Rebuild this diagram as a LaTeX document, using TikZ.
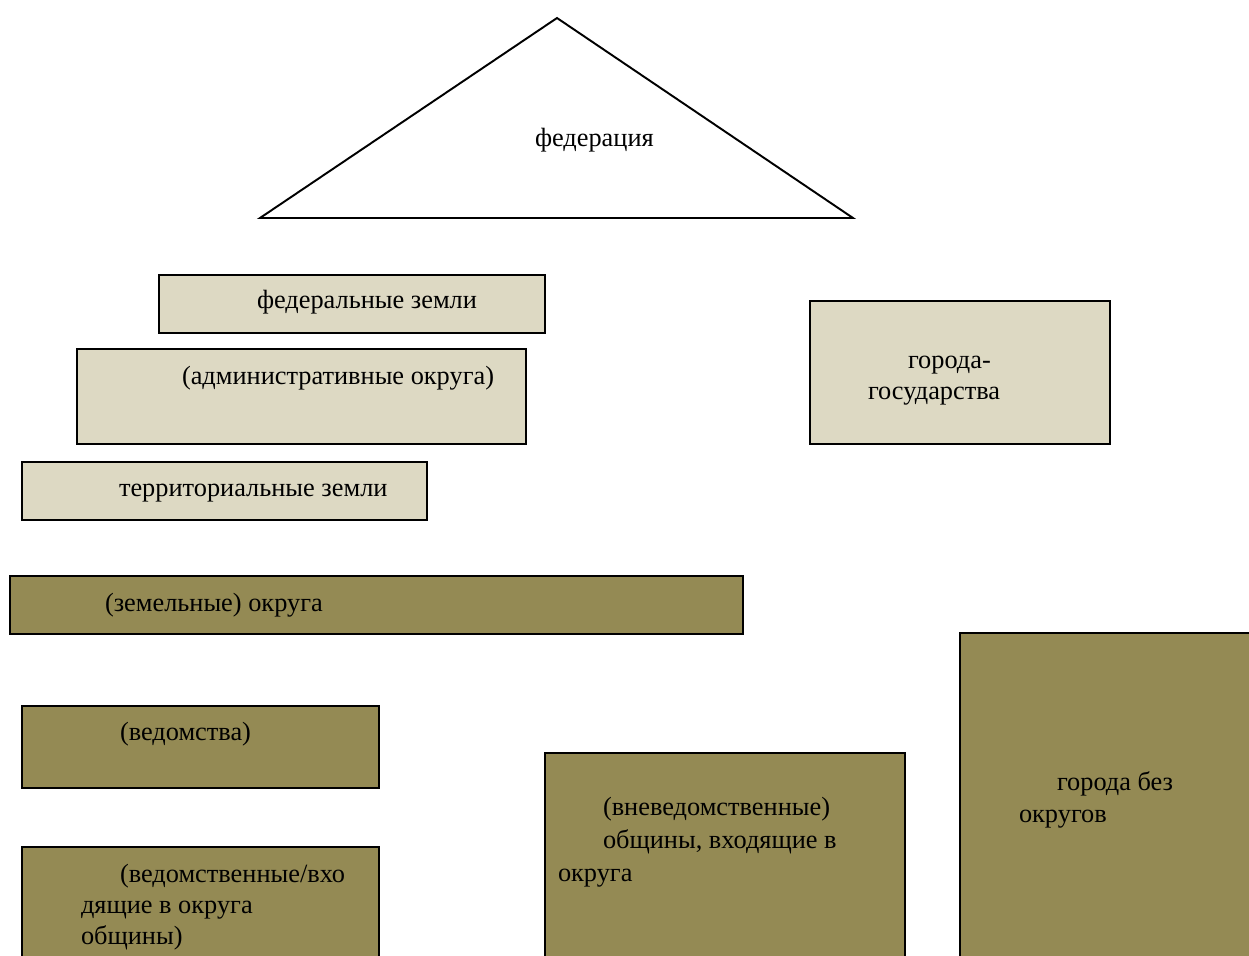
\documentclass[tikz,border=0pt]{standalone}
\usepackage{fontspec}
\setmainfont{Liberation Serif}
\definecolor{svetlyj}{HTML}{DDD9C3}
\definecolor{olivka}{HTML}{948A54}

\begin{document}
\begin{tikzpicture}[x=0.02cm, y=-0.02cm,
    every node/.style={inner sep=0pt, outer sep=0pt},
    svetlaya/.style={draw, line width=1.1pt, fill=svetlyj, anchor=north west},
    temnaya/.style={draw, line width=1.1pt, fill=olivka, anchor=north west},
    tekst/.style={anchor=base west, font=\fontsize{15}{18}\selectfont}]
              \useasboundingbox (0,0) rectangle (1249,956);
              \clip (0,0) rectangle (1249,956);

              % Treugolnik
              \coordinate (verh) at (557,18);
              \coordinate (levo) at (260,218);
              \coordinate (pravo) at (853,218);
              \draw[line width=1.1pt] (verh) -- (levo) -- (pravo) -- cycle;
              \node[tekst] (federacija) at (535,147) {федерация};

              % Svetlye bloki
              \node[svetlaya, minimum width=7.72cm, minimum height=1.16cm] (fedzemli) at (159,275) {};
              \node[svetlaya, minimum width=8.98cm, minimum height=1.9cm] (adminokr) at (77,349) {};
              \node[svetlaya, minimum width=8.1cm, minimum height=1.16cm] (terrzemli) at (22,462) {};
              \node[svetlaya, minimum width=6cm, minimum height=2.86cm] (gorgos) at (810,301) {};

              % Temnye bloki
              \node[temnaya, minimum width=14.66cm, minimum height=1.16cm] (zemokr) at (10,576) {};
              \node[temnaya, minimum width=7.14cm, minimum height=1.64cm] (vedomstva) at (22,706) {};
              \node[temnaya, minimum width=7.14cm, minimum height=2.8cm] (vedobsh) at (22,847) {};
              \node[temnaya, minimum width=7.2cm, minimum height=4.8cm] (vneved) at (545,753) {};
              \node[temnaya, minimum width=6.4cm, minimum height=7.2cm] (gorbez) at (960,633) {};

              % Nadpisi
              \node[tekst] (t-fedzemli) at (257,309) {федеральные земли};
              \node[tekst] (t-adminokr) at (182,385) {(административные округа)};
              \node[tekst] (t-terrzemli) at (119,497) {территориальные земли};
              \node[tekst] (t-gorgos1) at (908,369) {города-};
              \node[tekst] (t-gorgos2) at (868,400) {государства};
              \node[tekst] (t-zemokr) at (105,611) {(земельные) округа};
              \node[tekst] (t-vedomstva) at (120,740) {(ведомства)};
              \node[tekst] (t-vedobsh1) at (120,882) {(ведомственные/вхо};
              \node[tekst] (t-vedobsh2) at (81,913) {дящие в округа};
              \node[tekst] (t-vedobsh3) at (81,944) {общины)};
              \node[tekst] (t-vneved1) at (603,815) {(вневедомственные)};
              \node[tekst] (t-vneved2) at (603,848) {общины, входящие в};
              \node[tekst] (t-vneved3) at (558,881) {округа};
              \node[tekst] (t-gorbez1) at (1057,790) {города без};
              \node[tekst] (t-gorbez2) at (1019,822) {округов};
            \end{tikzpicture}
\end{document}
